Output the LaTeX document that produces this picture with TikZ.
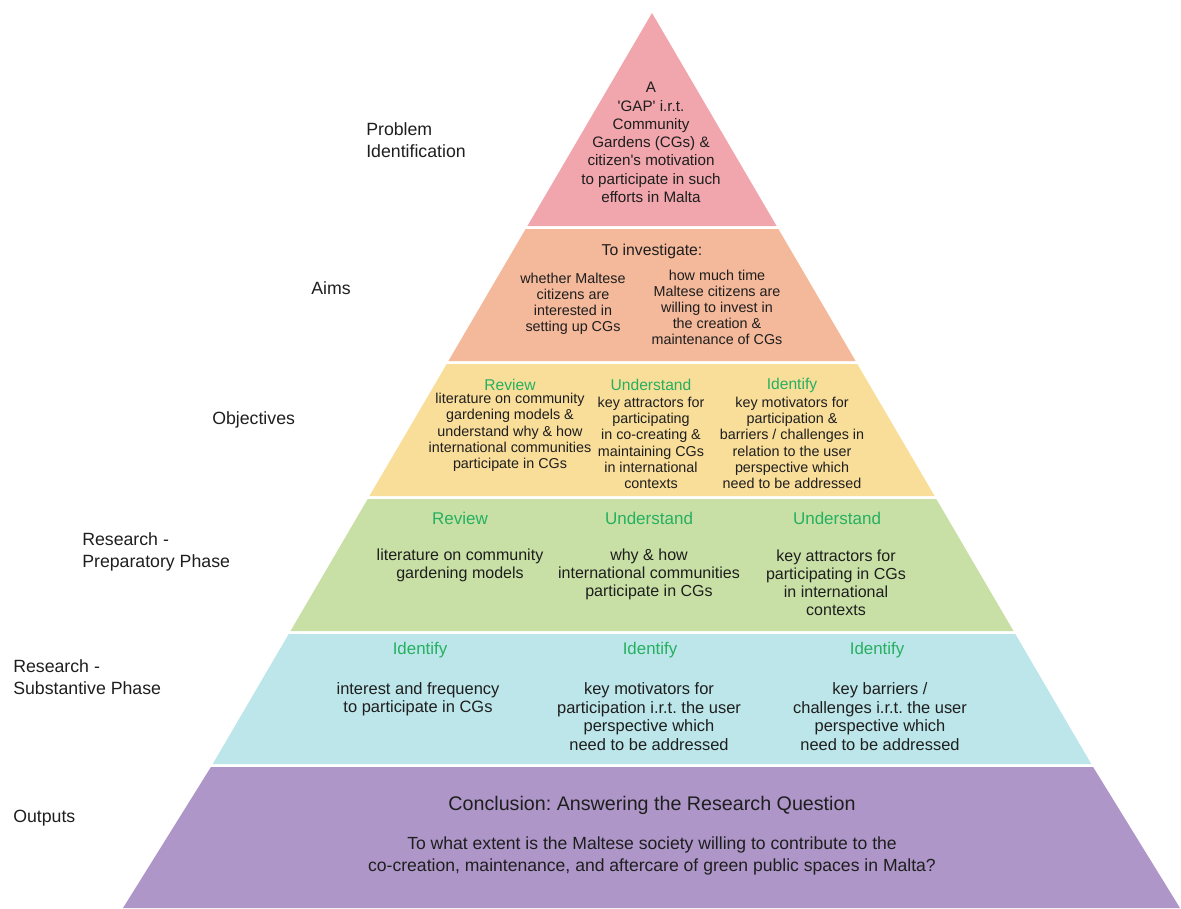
\documentclass[tikz,border=0pt]{standalone}
\usepackage{fontspec}
\setmainfont{Liberation Sans}
\usepackage{xcolor}
\usepackage{tikz}
\usetikzlibrary{positioning}
\frenchspacing
\definecolor{problempink}{RGB}{240, 166, 172}
\definecolor{aimsalmon}{RGB}{244, 184, 154}
\definecolor{objyellow}{RGB}{249, 222, 154}
\definecolor{prepgreen}{RGB}{200, 224, 165}
\definecolor{subcyan}{RGB}{188, 230, 233}
\definecolor{outpurple}{RGB}{174, 151, 200}
\definecolor{verbgreen}{RGB}{38, 176, 96}
\definecolor{bodytext}{RGB}{30, 30, 30}
\tikzstyle{sidelabel} = [anchor=west, align=left, inner sep=0pt, text=bodytext, font=\fontsize{12.6}{15.6}\selectfont]
\tikzstyle{verb} = [inner sep=0pt, text=verbgreen]
\tikzstyle{body} = [align=center, inner sep=0pt, text=bodytext]

\begin{document}
\begin{tikzpicture}[x=0.025cm, y=-0.025cm]
    \useasboundingbox (0, 0) rectangle (1181, 908);

    % Pyramid layers
    \fill[problempink] (652, 13) -- (776.6, 226) -- (527.4, 226) -- cycle;
    \fill[aimsalmon] (525.6, 229) -- (778.4, 229) -- (855.6, 361) -- (448.4, 361) -- cycle;
    \fill[objyellow] (446.7, 364) -- (857.3, 364) -- (934.6, 496) -- (369.4, 496) -- cycle;
    \fill[prepgreen] (367.7, 499) -- (936.3, 499) -- (1013.5, 631) -- (290.5, 631) -- cycle;
    \fill[subcyan] (288.7, 634) -- (1015.3, 634) -- (1091.3, 764) -- (212.7, 764) -- cycle;
    \fill[outpurple] (210.9, 767) -- (1093.1, 767) -- (1180, 908) -- (123, 908) -- cycle;

    % Side labels
    \node[sidelabel] (lblproblem) at (366, 140) {Problem\\Identification};
    \node[sidelabel] (lblaims) at (311, 288) {Aims};
    \node[sidelabel] (lblobj) at (212, 420) {Objectives};
    \node[sidelabel] (lblprep) at (82, 552) {Research -\\Preparatory Phase};
    \node[sidelabel] (lblsub) at (13, 677) {Research -\\Substantive Phase};
    \node[sidelabel] (lblout) at (13, 818) {Outputs};

    % Problem identification
    \node[body, font=\fontsize{10.8}{13}\selectfont] (gap) at (651, 142.5)
        {A\\\textquotesingle GAP\textquotesingle{} i.r.t.\\Community\\Gardens (CGs) \&\\citizen\textquotesingle s motivation\\to participate in such\\efforts in Malta};

    % Aims
    \node[body, font=\fontsize{11.2}{13}\selectfont] (aimhead) at (652, 251) {To investigate:};
    \node[body, font=\fontsize{10.2}{11.4}\selectfont] (aimleft) at (573, 303.5)
        {whether Maltese\\citizens are\\interested in\\setting up CGs};
    \node[body, font=\fontsize{10.2}{11.4}\selectfont] (aimright) at (717, 307.5)
        {how much time\\Maltese citizens are\\willing to invest in\\the creation \&\\maintenance of CGs};

    % Objectives
    \node[verb, font=\fontsize{11.1}{13}\selectfont] (objverb1) at (510, 385) {Review};
    \node[verb, font=\fontsize{11.1}{13}\selectfont] (objverb2) at (651, 385) {Understand};
    \node[verb, font=\fontsize{11.1}{13}\selectfont] (objverb3) at (792, 385) {Identify};
    \node[body, font=\fontsize{10.2}{11.6}\selectfont] (obj1) at (510, 432.5)
        {literature on community\\gardening models \&\\understand why \& how\\international communities\\participate in CGs};
    \node[body, font=\fontsize{10.2}{11.6}\selectfont] (obj2) at (651, 443)
        {key attractors for\\participating\\in co-creating \&\\maintaining CGs\\in international\\contexts};
    \node[body, font=\fontsize{10.2}{11.6}\selectfont] (obj3) at (792, 443)
        {key motivators for\\participation \&\\barriers / challenges in\\relation to the user\\perspective which\\need to be addressed};

    % Research - preparatory phase
    \node[verb, font=\fontsize{12.1}{14}\selectfont] (prepverb1) at (460, 518) {Review};
    \node[verb, font=\fontsize{12.1}{14}\selectfont] (prepverb2) at (649, 518) {Understand};
    \node[verb, font=\fontsize{12.1}{14}\selectfont] (prepverb3) at (837, 518) {Understand};
    \node[body, font=\fontsize{11.4}{12.9}\selectfont] (prep1) at (460, 565.5)
        {literature on community\\gardening models};
    \node[body, font=\fontsize{11.4}{12.9}\selectfont] (prep2) at (649, 574.5)
        {why \& how\\international communities\\participate in CGs};
    \node[body, font=\fontsize{11.4}{12.9}\selectfont] (prep3) at (836, 583)
        {key attractors for\\participating in CGs\\in international\\contexts};

    % Research - substantive phase
    \node[verb, font=\fontsize{12}{14}\selectfont] (subverb1) at (420, 650) {Identify};
    \node[verb, font=\fontsize{12}{14}\selectfont] (subverb2) at (650, 650) {Identify};
    \node[verb, font=\fontsize{12}{14}\selectfont] (subverb3) at (877, 650) {Identify};
    \node[body, font=\fontsize{11.7}{13.1}\selectfont] (sub1) at (418, 699)
        {interest and frequency\\to participate in CGs};
    \node[body, font=\fontsize{11.7}{13.1}\selectfont] (sub2) at (649, 716.5)
        {key motivators for\\participation i.r.t. the user\\perspective which\\need to be addressed};
    \node[body, font=\fontsize{11.7}{13.1}\selectfont] (sub3) at (880, 716.5)
        {key barriers /\\challenges i.r.t. the user\\perspective which\\need to be addressed};

    % Outputs
    \node[body, font=\fontsize{14}{16}\selectfont] (conclusion) at (652, 805)
        {Conclusion: Answering the Research Question};
    \node[body, font=\fontsize{12.5}{15.6}\selectfont] (question) at (652, 856)
        {To what extent is the Maltese society willing to contribute to the\\co-creation, maintenance, and aftercare of green public spaces in Malta?};
\end{tikzpicture}
\end{document}
